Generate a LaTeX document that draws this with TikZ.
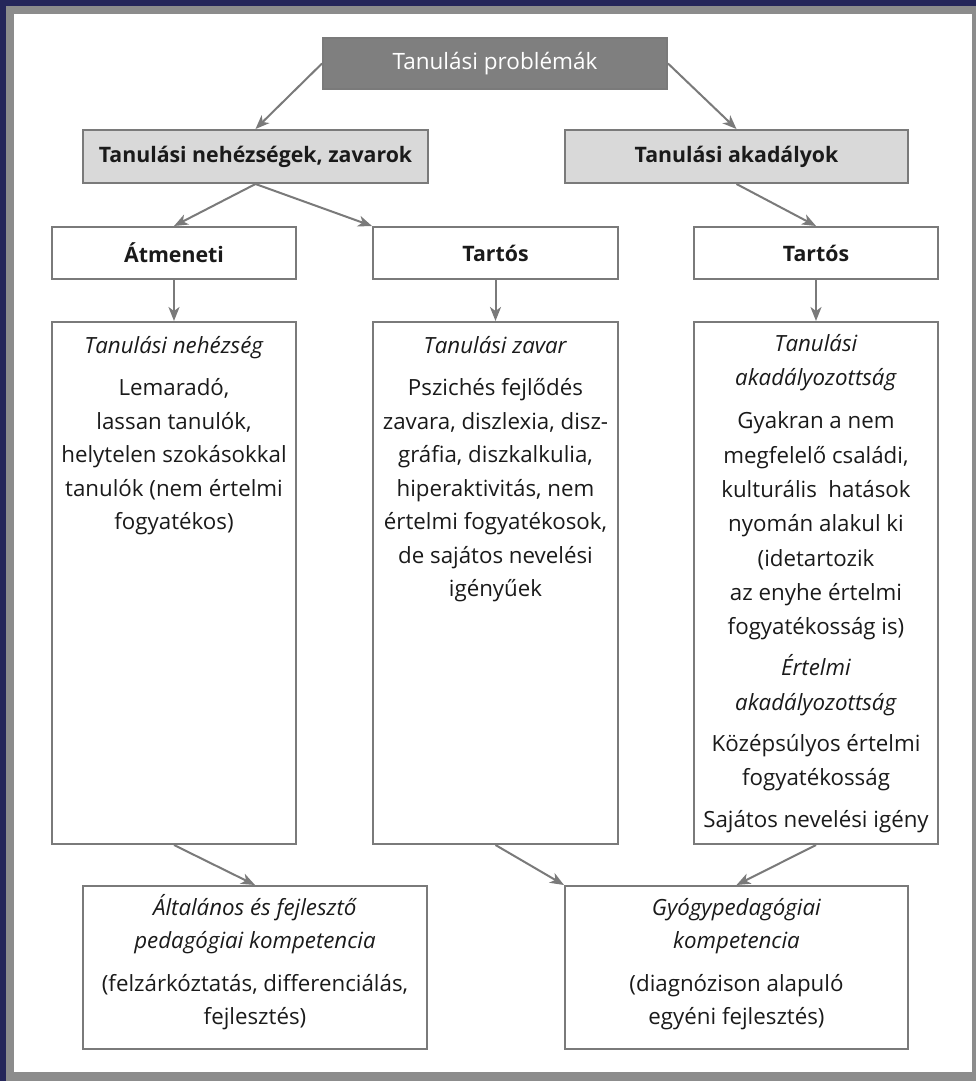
\documentclass[tikz,border=0pt]{standalone}
\usepackage{fontspec}
\setmainfont{Open Sans}
\usetikzlibrary{arrows.meta}
\definecolor{navy}{HTML}{25265A}
\definecolor{framegrey}{HTML}{8C8C8C}
\definecolor{linegrey}{HTML}{7A7A7A}
\definecolor{topfill}{HTML}{7F7F7F}
\definecolor{headfill}{HTML}{D9D9D9}
\definecolor{txt}{HTML}{1A1A1A}
\begin{document}
\begin{tikzpicture}[x=1pt,y=-1pt,
  box/.style={draw=linegrey, line width=2pt, fill=white, inner sep=0pt, rectangle},
  topbox/.style={box, fill=topfill, text=white, font=\fontsize{22.5}{26}\selectfont},
  headbox/.style={box, fill=headfill, text=txt, font=\bfseries\fontsize{21.3}{26}\selectfont},
  rowbox/.style={box, text=txt, font=\bfseries\fontsize{21.3}{26}\selectfont},
  body/.style={text=txt, align=center, inner sep=0pt, anchor=north, font=\fontsize{22.3}{33.5}\selectfont},
  conn/.style={draw=linegrey, line width=2pt, -{Stealth[length=14pt,width=11pt,inset=4pt]}}
]
\fill[navy] (0,0) rectangle (976,1081);
\fill[framegrey] (6,6) rectangle (976,1081);
\fill[white] (13.5,14) rectangle (972,1072);
\useasboundingbox (0,0) rectangle (976,1081);

% top level
\node[topbox, minimum width=344pt, minimum height=51pt] (top) at (495,63.5) {Tanulási problémák};
\node[headbox, minimum width=345pt, minimum height=53pt] (h1) at (255.5,156.5) {Tanulási nehézségek, zavarok};
\node[headbox, minimum width=343pt, minimum height=53pt] (h2) at (736.5,156.5) {Tanulási akadályok};

% row of durations
\node[rowbox, minimum width=244pt, minimum height=52pt] (r1) at (174,253) {Átmeneti};
\node[rowbox, minimum width=245pt, minimum height=52pt] (r2) at (495.5,253) {Tartós};
\node[rowbox, minimum width=244pt, minimum height=52pt] (r3) at (816,253) {Tartós};

% big boxes
\node[box, minimum width=244pt, minimum height=522pt] (big1) at (174,583) {};
\node[box, minimum width=245pt, minimum height=522pt] (big2) at (495.5,583) {};
\node[box, minimum width=244pt, minimum height=522pt] (big3) at (816,583) {};

% bottom boxes
\node[box, minimum width=344pt, minimum height=163pt] (bot1) at (255,967.5) {};
\node[box, minimum width=343pt, minimum height=163pt] (bot2) at (736.5,967.5) {};

% texts
\node[body] (t1) at (174,336) {\textit{Tanulási nehézség}\\[9pt]
  Lemaradó,\\ lassan tanulók,\\ helytelen szokásokkal\\ tanulók (nem értelmi\\ fogyatékos)};
\node[body] (t2) at (495.5,336) {\textit{Tanulási zavar}\\[9pt]
  Pszichés fejlődés\\ zavara, diszlexia, disz-\\ gráfia, diszkalkulia,\\ hiperaktivitás, nem\\ értelmi fogyatékosok,\\ de sajátos nevelési\\ igényűek};
\node[body, font=\fontsize{22.3}{34.3}\selectfont] (t3) at (816,334) {\textit{Tanulási}\\ \textit{akadályozottság}\\[9pt]
  Gyakran a nem\\ megfelelő családi,\\ kulturális\ \ hatások\\ nyomán alakul ki\\ (idetartozik\\ az enyhe értelmi\\ fogyatékosság is)\\[7pt]
  \textit{Értelmi}\\ \textit{akadályozottság}\\[7pt]
  Középsúlyos értelmi\\ fogyatékosság\\[7pt]
  Sajátos nevelési igény};
\node[body] (t4) at (255,894) {\textit{Általános és fejlesztő}\\ \textit{pedagógiai kompetencia}\\[9pt]
  (felzárkóztatás, differenciálás,\\ fejlesztés)};
\node[body] (t5) at (736.5,898) {\textit{Gyógypedagógiai}\\ \textit{kompetencia}\\[9pt]
  (diagnózison alapuló\\ egyéni fejlesztés)};

% connectors
\draw[conn] (top.west) -- (h1.north);
\draw[conn] (top.east) -- (h2.north);
\draw[conn] (h1.south) -- (r1.north);
\draw[conn] (h1.south) -- (r2.north west);
\draw[conn] (h2.south) -- (r3.north);
\draw[conn] (r1.south) -- (big1.north);
\draw[conn] (r2.south) -- (big2.north);
\draw[conn] (r3.south) -- (big3.north);
\draw[conn] (big1.south) -- (bot1.north);
\draw[conn] (big2.south) -- (bot2.north west);
\draw[conn] (big3.south) -- (bot2.north);
\end{tikzpicture}
\end{document}
